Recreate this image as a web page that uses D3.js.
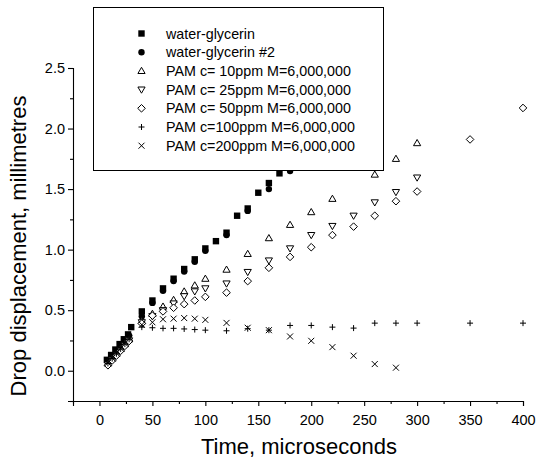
<!DOCTYPE html>
<html><head><meta charset="utf-8">
<script src="https://cdn.jsdelivr.net/npm/d3@7"></script>
<style>body{margin:0;background:#fff}svg{display:block}text{font-family:"Liberation Sans",Arial,sans-serif;fill:#000}</style>
</head><body><div id="chart"></div>
<script>
const seriesNames = ["water-glycerin","water-glycerin #2","PAM c= 10ppm M=6,000,000","PAM c= 25ppm M=6,000,000","PAM c= 50ppm M=6,000,000","PAM c=100ppm M=6,000,000","PAM c=200ppm M=6,000,000"];
const seriesSymbols = ["square","circle","triangleUp","triangleDown","diamond","plus","cross"];

const wgT = [7,11,15,19,23,27,30,40,50,60,70,80,90,100,110,120,130,140,150,160,170];
const wgV = [0.09,0.13,0.175,0.22,0.26,0.30,0.36,0.49,0.58,0.68,0.76,0.84,0.92,1.01,1.07,1.14,1.28,1.34,1.47,1.55,1.63];
const wg2T = [8,12,16,20,24,28,40,50,60,70,80,90,100,120,140,160,180];
const wg2V = [0.08,0.12,0.165,0.21,0.25,0.29,0.45,0.56,0.66,0.74,0.82,0.90,0.99,1.12,1.32,1.50,1.65];
const p10T = [8,12,16,20,24,28,40,50,60,70,80,90,100,120,140,160,180,200,220,260,280,300];
const p10V = [0.06,0.10,0.14,0.18,0.22,0.26,0.41,0.47,0.53,0.585,0.655,0.705,0.76,0.835,0.965,1.095,1.205,1.31,1.42,1.62,1.75,1.88];
const p25T = [8,12,16,20,24,28,40,50,60,70,80,90,100,120,140,160,180,200,220,240,260,280,300];
const p25V = [0.05,0.09,0.13,0.17,0.21,0.25,0.40,0.45,0.50,0.555,0.615,0.655,0.68,0.72,0.815,0.91,1.01,1.12,1.195,1.28,1.39,1.475,1.595];
const p50T = [8,12,16,20,24,28,40,50,60,70,80,90,100,120,140,160,180,200,220,240,260,280,300,350,400];
const p50V = [0.045,0.085,0.125,0.165,0.205,0.245,0.39,0.455,0.49,0.52,0.55,0.58,0.61,0.645,0.74,0.85,0.94,1.02,1.12,1.19,1.28,1.40,1.48,1.91,2.17];
const p100T = [8,12,16,20,24,28,40,50,60,70,80,90,100,120,140,160,180,200,220,240,260,280,300,350,400];
const p100V = [0.06,0.10,0.14,0.18,0.22,0.26,0.36,0.355,0.35,0.35,0.345,0.34,0.335,0.33,0.347,0.335,0.374,0.374,0.36,0.352,0.393,0.393,0.393,0.393,0.393];
const p200T = [8,12,16,20,24,28,40,50,60,70,80,90,100,120,140,160,180,200,220,240,260,280];
const p200V = [0.065,0.105,0.145,0.185,0.225,0.265,0.38,0.40,0.425,0.43,0.435,0.43,0.42,0.395,0.355,0.335,0.283,0.247,0.195,0.124,0.055,0.025];

const xMajorTicks = [0,50,100,150,200,250,300,350,400];
const xMinorTicks = [-25,25,75,125,175,225,275,325,375];
const yMajorTicks = [0,0.5,1.0,1.5,2.0,2.5];
const yMinorTicks = [-0.25,0.25,0.75,1.25,1.75,2.25];
const xTitle = "Time, microseconds";
const yTitle = "Drop displacement, millimetres";

const allT = [wgT,wg2T,p10T,p25T,p50T,p100T,p200T];
const allV = [wgV,wg2V,p10V,p25V,p50V,p100V,p200V];
const series = seriesNames.map((n,i)=>({name:n,symbol:seriesSymbols[i],pts:allT[i].map((t,j)=>({t,v:allV[i][j]}))}));

const W=537,H=460;
const svg = d3.select("#chart").append("svg").attr("width",W).attr("height",H);
const x = d3.scaleLinear().domain([-25,400]).range([73,523]);
const y = d3.scaleLinear().domain([-0.25,2.5]).range([401,68]);

function symPath(type){
  const s=3.2;
  switch(type){
    case "square": return `M${-s},${-s}H${s}V${s}H${-s}Z`;
    case "circle": return `M${-s},0A${s},${s} 0 1,0 ${s},0A${s},${s} 0 1,0 ${-s},0Z`;
    case "triangleUp": return `M0,-3.6L3.6,2.6L-3.6,2.6Z`;
    case "triangleDown": return `M0,3.6L3.6,-2.6L-3.6,-2.6Z`;
    case "diamond": return `M0,-3.8L3.8,0L0,3.8L-3.8,0Z`;
    case "plus": return `M-3,0H3M0,-3V3`;
    case "cross": return `M-3,-3L3,3M-3,3L3,-3`;
  }
}
function symStyle(sel,type){
  const filled = type==="square"||type==="circle";
  sel.attr("fill",filled?"#000":(type==="plus"||type==="cross"?"none":"#fff"))
     .attr("stroke","#000").attr("stroke-width",filled?0:1);
}

// axes
const gx = svg.append("g").attr("transform",`translate(0,${y(-0.25)})`);
gx.call(d3.axisBottom(x).tickValues(xMajorTicks).tickSize(5).tickFormat(d3.format("d")));
gx.append("g").call(d3.axisBottom(x).tickValues(xMinorTicks).tickSize(3).tickFormat(""));
const gy = svg.append("g").attr("transform",`translate(${x(-25)},0)`);
gy.call(d3.axisLeft(y).tickValues(yMajorTicks).tickSize(5).tickFormat(d3.format(".1f")));
gy.append("g").call(d3.axisLeft(y).tickValues(yMinorTicks).tickSize(3).tickFormat(""));
svg.selectAll(".domain").attr("stroke","#000").attr("stroke-width",1.1);
svg.selectAll(".tick line").attr("stroke","#000").attr("stroke-width",1.1);
svg.selectAll(".tick text").style("font-family","Liberation Sans, Arial, sans-serif").style("font-size","14.5px").attr("fill","#000");
gx.selectAll(".tick text").attr("dy","1.12em");
svg.selectAll("g g .domain").remove();

// data
series.forEach(s=>{
  svg.append("g").selectAll("path").data(s.pts).join("path")
    .attr("transform",d=>`translate(${x(d.t)},${y(d.v)})`)
    .attr("d",symPath(s.symbol)).call(symStyle,s.symbol);
});

// legend
const lg = svg.append("g");
lg.append("rect").attr("x",93.5).attr("y",7.5).attr("width",290).attr("height",163)
  .attr("fill","#fff").attr("stroke","#000").attr("stroke-width",1);
series.forEach((s,i)=>{
  const yy = 33.5 + i*18.7;
  lg.append("path").attr("transform",`translate(141.5,${yy})`).attr("d",symPath(s.symbol)).call(symStyle,s.symbol);
  lg.append("text").attr("x",166).attr("y",yy).attr("dy","0.35em").style("font-size","14.3px").text(s.name);
});

// titles
svg.append("text").attr("x",299).attr("y",454).attr("text-anchor","middle").style("font-size","22px").text(xTitle);
svg.append("text").attr("transform",`translate(26,246) rotate(-90)`).attr("text-anchor","middle").style("font-size","22px").text(yTitle);
</script></body></html>
